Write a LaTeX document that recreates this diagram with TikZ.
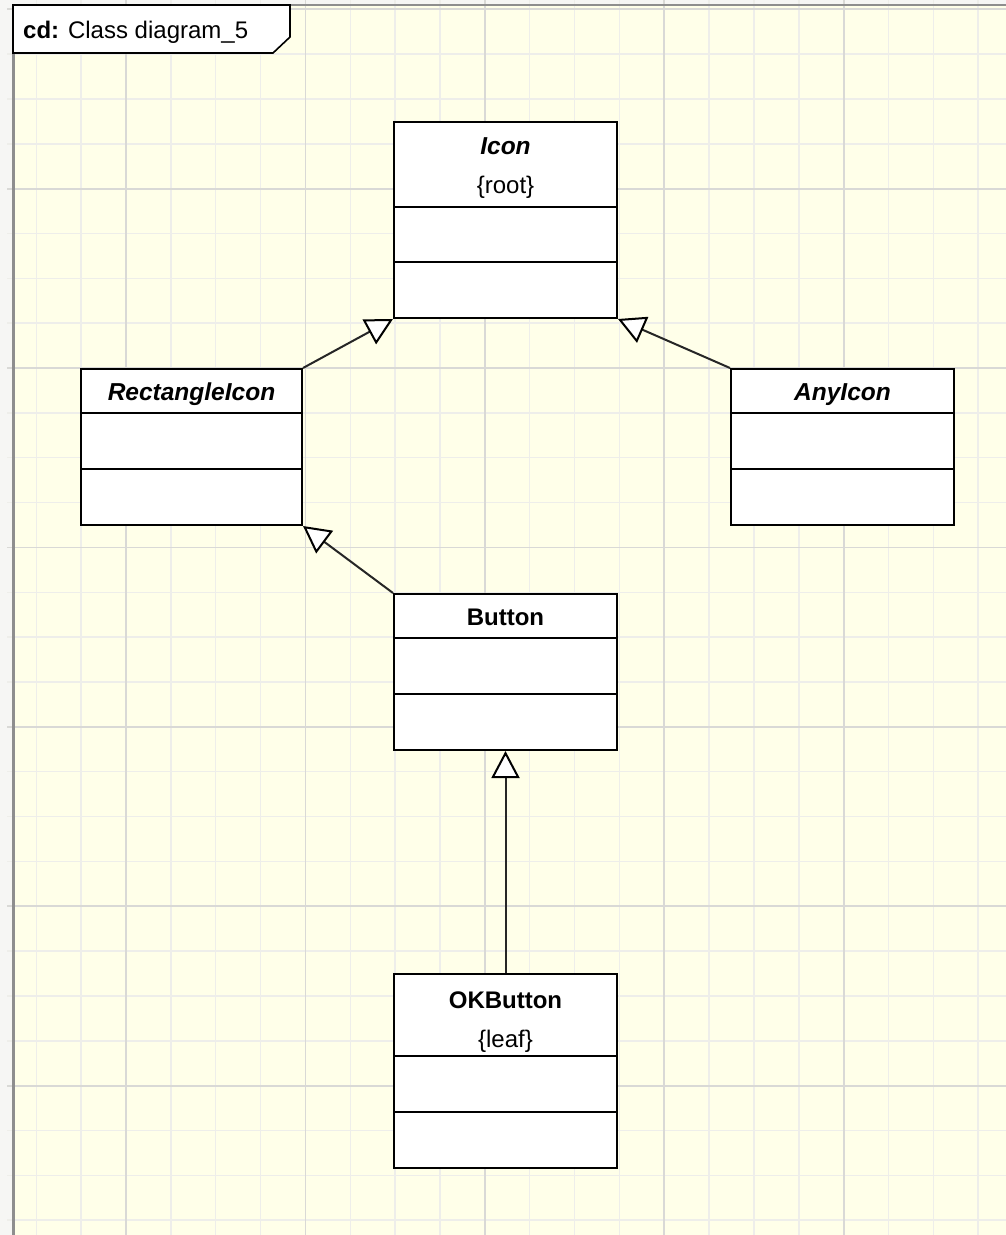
\documentclass[tikz,border=0pt]{standalone}
\usepackage{fontspec}
\setmainfont{Liberation Sans}
\usetikzlibrary{arrows.meta}

\definecolor{paper}{HTML}{FFFFE9}
\definecolor{outside}{HTML}{F6F6F4}
\definecolor{gridminor}{HTML}{EEEEEA}
\definecolor{gridmajor}{HTML}{D9D9D6}
\definecolor{framegrey}{HTML}{8E8E8E}

\begin{document}
\begin{tikzpicture}[x=1pt,y=-1pt,
  umlbox/.style={draw=black, line width=2pt, fill=white, inner sep=0pt},
  compsep/.style={draw=black, line width=2pt},
  classname/.style={font=\fontsize{24}{28}\selectfont\bfseries, inner sep=0pt, anchor=base},
  abstractname/.style={font=\fontsize{24.5}{28}\selectfont\bfseries\itshape, inner sep=0pt, anchor=base},
  tagtext/.style={font=\fontsize{24}{28}\selectfont, inner sep=0pt, anchor=base},
  generalization/.style={draw=black!85, line width=2pt,
    -{Triangle[length=27pt, width=28pt, fill=white, color=black]}},
  minorline/.style={draw=gridminor, line width=1.5pt},
  majorline/.style={draw=gridmajor, line width=1.8pt},
  frameline/.style={draw=framegrey, line width=2.5pt},
  headerline/.style={draw=black, line width=1.6pt, fill=white},
]
% page and drawing area
\useasboundingbox (0,0) rectangle (1006,1235);
\fill[outside] (0,0) rectangle (1006,1235);
\fill[paper] (13,5) rectangle (1006,1235);

% grid: minor every 44.85, major every fourth line
\foreach \k in {-2,...,19} {
  \pgfmathsetmacro{\gx}{126+\k*44.85}
  \draw[minorline] (\gx,0) -- (\gx,1235);
}
\foreach \k in {0,...,27} {
  \pgfmathsetmacro{\gy}{9.2+\k*44.85}
  \draw[minorline] (7,\gy) -- (1006,\gy);
}
\foreach \k in {0,4,8,12,16} {
  \pgfmathsetmacro{\gx}{126+\k*44.85}
  \draw[majorline] (\gx,0) -- (\gx,1235);
}
\foreach \k in {0,4,8,12,16,20,24} {
  \pgfmathsetmacro{\gy}{9.2+\k*44.85}
  \draw[majorline] (7,\gy) -- (1006,\gy);
}

% diagram frame
\draw[frameline] (13.5,1235) -- (13.5,5) -- (1006,5);
\draw[headerline] (13,5) -- (290,5) -- (290,37) -- (273,53) -- (13,53) -- cycle;
\node[tagtext, anchor=base west] (hdr) at (23,38) {\textbf{cd:} Class diagram\_5};

% classes
\node[umlbox, minimum width=223pt, minimum height=196pt] (icon) at (505.5,220) {};
\draw[compsep] (icon.west |- 0,207) -- (icon.east |- 0,207);
\draw[compsep] (icon.west |- 0,262) -- (icon.east |- 0,262);
\node[abstractname] (iconname) at (icon.north |- 0,154) {Icon};
\node[tagtext] (icontag) at (icon.north |- 0,193) {\{root\}};

\node[umlbox, minimum width=221pt, minimum height=156pt] (rect) at (191.5,447) {};
\draw[compsep] (rect.west |- 0,413) -- (rect.east |- 0,413);
\draw[compsep] (rect.west |- 0,469) -- (rect.east |- 0,469);
\node[abstractname] (rectname) at (rect.north |- 0,400) {RectangleIcon};

\node[umlbox, minimum width=223pt, minimum height=156pt] (any) at (842.5,447) {};
\draw[compsep] (any.west |- 0,413) -- (any.east |- 0,413);
\draw[compsep] (any.west |- 0,469) -- (any.east |- 0,469);
\node[abstractname] (anyname) at (any.north |- 0,400) {AnyIcon};

\node[umlbox, minimum width=223pt, minimum height=156pt] (button) at (505.5,672) {};
\draw[compsep] (button.west |- 0,638) -- (button.east |- 0,638);
\draw[compsep] (button.west |- 0,694) -- (button.east |- 0,694);
\node[classname] (buttonname) at (button.north |- 0,625) {Button};

\node[umlbox, minimum width=223pt, minimum height=194pt] (okbutton) at (505.5,1071) {};
\draw[compsep] (okbutton.west |- 0,1056) -- (okbutton.east |- 0,1056);
\draw[compsep] (okbutton.west |- 0,1112) -- (okbutton.east |- 0,1112);
\node[classname] (okname) at (okbutton.north |- 0,1008) {OKButton};
\node[tagtext] (oktag) at (okbutton.north |- 0,1047) {\{leaf\}};

% generalizations
\draw[generalization] (rect.north east) -- (icon.south west);
\draw[generalization] (any.north west) -- (icon.south east);
\draw[generalization] (button.north west) -- (rect.south east);
\draw[generalization] (okbutton.north) -- (button.south);
\end{tikzpicture}
\end{document}
